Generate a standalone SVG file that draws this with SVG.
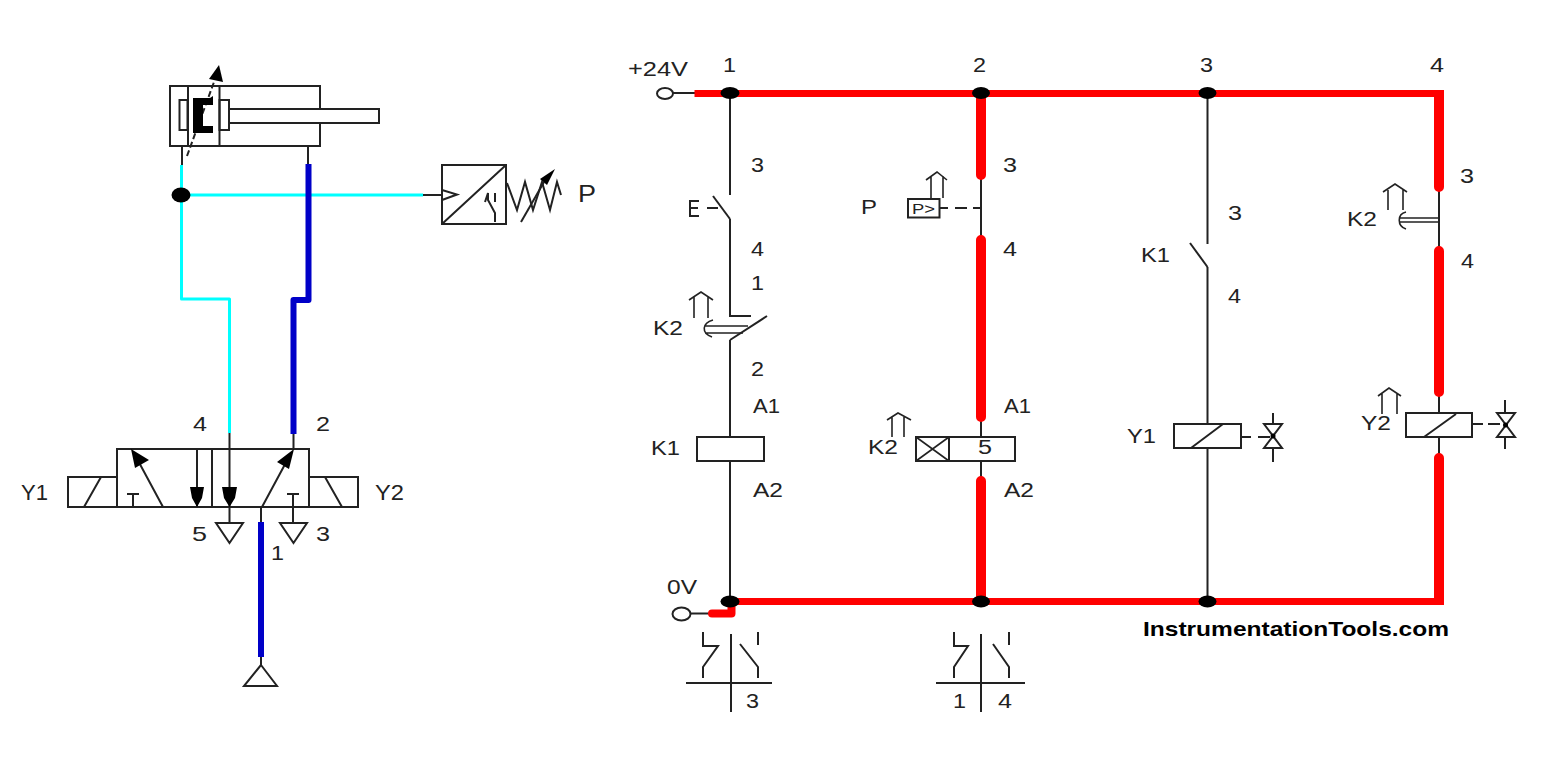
<svg xmlns="http://www.w3.org/2000/svg" width="1545" height="784" viewBox="0 0 1545 784">
<style>
text{font-family:"Liberation Sans",Arial,sans-serif;font-size:20px;fill:#222}
.k{fill:none;stroke:#222;stroke-width:2}
.t{fill:none;stroke:#222;stroke-width:1.600}
.w{fill:#fff;stroke:#222;stroke-width:2}
.f{fill:#000;stroke:none}
.r{fill:none;stroke:#f00;stroke-width:7;stroke-linecap:square;stroke-linejoin:round}
.rv{fill:none;stroke:#f00;stroke-width:10;stroke-linecap:round}
.c{fill:none;stroke:#0ff;stroke-width:3;stroke-linejoin:round}
.b{fill:none;stroke:#0000c8;stroke-width:6;stroke-linejoin:round}
</style>
<rect width="1545" height="784" fill="#fff"/>
<g id="connectors">
<path class="k" d="M182 146V166M308 146V166M423 195H442M229.500 433V449M293.500 433V449M261 507V523M261 656V666"/>
<path class="c" d="M181.500 165V299H229.500V433M181 195H423"/>
<path class="b" d="M308.500 164V300H293.500V434M261 522V657"/>
<path class="k" d="M673 93H697M730 93V195M730 219V316H751M730 340V437M730 461V601M690 613.500H712M981 178V237M981 418V437M981 461V478M1207.500 93V244M1207.500 267V424M1207.500 448V601M1439 190V247M1439 395V413M1439 437V455"/>
<path class="r" d="M698 93.500H1440.500M735 601.500H1440.500"/>
<path class="rv" d="M981 95V175M981 240V417M981 481V600M1439 95V187M1439 251V392M1439 458V600"/>
<path d="M712 613.500H731.500V604" fill="none" stroke="#f00" stroke-width="8" stroke-linecap="round" stroke-linejoin="round"/>
</g>
<g id="junctions">
<ellipse class="f" cx="181" cy="195" rx="9.500" ry="7.500"/>
<ellipse class="f" cx="730" cy="93" rx="9.500" ry="6"/>
<ellipse class="f" cx="981" cy="93" rx="9" ry="6"/>
<ellipse class="f" cx="1207.500" cy="93" rx="9" ry="6"/>
<ellipse class="f" cx="730" cy="601.500" rx="9.500" ry="6"/>
<ellipse class="f" cx="981" cy="601.500" rx="9" ry="6"/>
<ellipse class="f" cx="1207.500" cy="601.500" rx="9" ry="6"/>
</g>
<g id="cylinder">
<rect class="k" x="170" y="86" width="150" height="60"/>
<path class="k" d="M188 86V146M219.500 86V146"/>
<rect class="k" x="179.500" y="100" width="8" height="30"/>
<rect class="k" x="219.500" y="100" width="9.500" height="30"/>
<rect class="w" x="229" y="109" width="150" height="14"/>
<path d="M187 156L214 82" class="k" stroke-dasharray="6 3"/>
<path class="f" d="M193 98H210L213 96V105H203V126H213V133H193Z"/>
<path class="f" d="M219 65L223 82L209 79Z"/>
</g>
<g id="pressure-converter">
<rect class="k" x="442" y="165" width="64" height="59"/>
<path class="k" d="M442 190L457 194.500L442 200M442 224L506 165M485 202L488 193V200L495 213V222M495 193V202"/>
<path class="k" d="M507 183L517 210L525 182L533 210L542 182L550 210L557 182L561 195"/>
<path class="k" d="M521 222L544 182"/>
<path class="f" d="M555 169L547 185L540 179Z"/>
<text x="578" y="202" textLength="18" lengthAdjust="spacingAndGlyphs" style="font-size:24px">P</text>
</g>
<g id="valve">
<rect class="k" x="117" y="449" width="192" height="58"/>
<path class="k" d="M117 477H68V507H117M84 507L101 477"/>
<path class="k" d="M309 477H358V507H309M325 477L342 507"/>
<path class="k" d="M212 449V507"/>
<path class="k" d="M163 507L135 455M197 449V507M229.500 449V523M262 507L290 455M133 507V494M127 494H139M293 523V494M287 494H299"/>
<path class="f" d="M131 449L149 460L135 468ZM190 487H204L202 498L197 507L192 498ZM222 487H237L235 498L229.500 507L224 498ZM294 449L277 462L289 469Z"/>
<path class="k" d="M216 523H243L229.500 543ZM280 523H307L293.500 543Z"/>
<path class="k" d="M261 665L244 686H277Z"/>
<text x="193" y="431" textLength="14" lengthAdjust="spacingAndGlyphs" style="font-size:21px">4</text>
<text x="316" y="431" textLength="14" lengthAdjust="spacingAndGlyphs" style="font-size:21px">2</text>
<text x="21" y="500" textLength="27" lengthAdjust="spacingAndGlyphs" style="font-size:22px">Y1</text>
<text x="375" y="500" textLength="29" lengthAdjust="spacingAndGlyphs" style="font-size:22px">Y2</text>
<text x="192" y="541" textLength="15" lengthAdjust="spacingAndGlyphs" style="font-size:21px">5</text>
<text x="316" y="541" textLength="14" lengthAdjust="spacingAndGlyphs" style="font-size:21px">3</text>
<text x="271" y="560" textLength="13" lengthAdjust="spacingAndGlyphs" style="font-size:21px">1</text>
</g>
<g id="terminals">
<ellipse class="w" cx="665" cy="93.500" rx="8" ry="5.500"/>
<ellipse class="w" cx="681.500" cy="614" rx="9" ry="6.500"/>
<text x="628" y="76" textLength="60" lengthAdjust="spacingAndGlyphs">+24V</text>
<text x="723" y="72" textLength="13" lengthAdjust="spacingAndGlyphs">1</text>
<text x="973" y="72" textLength="13" lengthAdjust="spacingAndGlyphs">2</text>
<text x="1200" y="72" textLength="13" lengthAdjust="spacingAndGlyphs">3</text>
<text x="1430" y="72" textLength="14" lengthAdjust="spacingAndGlyphs">4</text>
<text x="667" y="594" textLength="30" lengthAdjust="spacingAndGlyphs">0V</text>
</g>
<g id="contact-E">
<path class="k" d="M713 196L730 219"/>
<path class="k" d="M699 201H690V216H699M690 208H698M707 208H718"/>
<text x="751" y="172" textLength="13" lengthAdjust="spacingAndGlyphs">3</text>
<text x="751" y="256" textLength="13" lengthAdjust="spacingAndGlyphs">4</text>
</g>
<g id="contact-K2-nc">
<path class="k" d="M767 316L730 340"/>
<path class="t" d="M705 326H748M705 333H743M713 320C702 323 701 333 712 337M694 318V296M708 318V296M689 300L701 292L713 300"/>
<text x="751" y="290" textLength="13" lengthAdjust="spacingAndGlyphs">1</text>
<text x="751" y="376" textLength="13" lengthAdjust="spacingAndGlyphs">2</text>
<text x="653" y="335" textLength="30" lengthAdjust="spacingAndGlyphs">K2</text>
</g>
<g id="coil-K1">
<rect class="k" x="697" y="437" width="67" height="24"/>
<text x="753" y="413" textLength="27" lengthAdjust="spacingAndGlyphs">A1</text>
<text x="753" y="497" textLength="30" lengthAdjust="spacingAndGlyphs">A2</text>
<text x="651" y="455" textLength="29" lengthAdjust="spacingAndGlyphs">K1</text>
</g>
<g id="contact-table-1">
<path class="k" d="M731 634V712M686 683H772M703 632V646H718L703 667V678M758 632V645M740 644L758 667V678"/>
<text x="746" y="708" textLength="13" lengthAdjust="spacingAndGlyphs">3</text>
</g>
<g id="switch-P">
<rect class="k" x="908" y="199" width="31.500" height="18.500"/>
<text x="912" y="214" textLength="23" lengthAdjust="spacingAndGlyphs" style="font-size:14px">P&gt;</text>
<path class="k" d="M940 208H948M955 208H967M973 208H981"/>
<path class="t" d="M931 198V176M943 198V176M926 180L937 172L947 180"/>
<text x="861" y="214" textLength="16" lengthAdjust="spacingAndGlyphs">P</text>
<text x="1003" y="172" textLength="14" lengthAdjust="spacingAndGlyphs">3</text>
<text x="1003" y="256" textLength="14" lengthAdjust="spacingAndGlyphs">4</text>
</g>
<g id="coil-K2">
<rect class="k" x="916" y="437" width="99" height="24"/>
<path class="k" d="M949 437V461"/>
<path class="t" d="M916 437L949 461M949 437L916 461M892 437V417M904 437V417M887 420L898 413L911 420"/>
<text x="868" y="454" textLength="30" lengthAdjust="spacingAndGlyphs">K2</text>
<text x="978" y="454" textLength="14" lengthAdjust="spacingAndGlyphs">5</text>
<text x="1004" y="413" textLength="27" lengthAdjust="spacingAndGlyphs">A1</text>
<text x="1004" y="497" textLength="30" lengthAdjust="spacingAndGlyphs">A2</text>
</g>
<g id="contact-K1">
<path class="k" d="M1190 243L1207.500 267"/>
<text x="1228" y="220" textLength="14" lengthAdjust="spacingAndGlyphs">3</text>
<text x="1228" y="303" textLength="13" lengthAdjust="spacingAndGlyphs">4</text>
<text x="1141" y="262" textLength="29" lengthAdjust="spacingAndGlyphs">K1</text>
</g>
<g id="coil-Y1">
<rect class="k" x="1174" y="424" width="67" height="24"/>
<path class="k" d="M1191 448L1223 424M1241 437H1251M1258 437H1270M1273 413V424M1273 448V462"/>
<path class="k" d="M1264 424H1282L1264 448H1282Z"/>
<circle class="f" cx="1273" cy="436" r="2.500"/>
<text x="1127" y="443" textLength="29" lengthAdjust="spacingAndGlyphs">Y1</text>
</g>
<g id="contact-K2-no">
<path class="t" d="M1400 218H1439M1400 222H1439M1406 212C1397 214 1397 226 1406 229M1388 210V190M1403 210V190M1383 192L1395 184L1407 192"/>
<text x="1460" y="183" textLength="14" lengthAdjust="spacingAndGlyphs">3</text>
<text x="1461" y="268" textLength="13" lengthAdjust="spacingAndGlyphs">4</text>
<text x="1347" y="226" textLength="30" lengthAdjust="spacingAndGlyphs">K2</text>
</g>
<g id="coil-Y2">
<rect class="k" x="1406" y="413" width="66" height="24"/>
<path class="k" d="M1424 437L1456 414M1472 424H1483M1488 424H1500M1505 400V413M1505 437V449"/>
<path class="k" d="M1497 413H1515L1497 437H1515Z"/>
<circle class="f" cx="1505.500" cy="425" r="2.500"/>
<path class="t" d="M1382 414V393M1397 414V393M1378 396L1389 388L1401 396"/>
<text x="1361" y="430" textLength="30" lengthAdjust="spacingAndGlyphs">Y2</text>
</g>
<g id="contact-table-2">
<path class="k" d="M981 634V712M936 683H1025M954 632V646H968L954 667V678M1009 632V645M993 644L1009 667V678"/>
<text x="953" y="708" textLength="13" lengthAdjust="spacingAndGlyphs">1</text>
<text x="998" y="708" textLength="14" lengthAdjust="spacingAndGlyphs">4</text>
</g>
<text id="watermark" x="1143" y="636" textLength="306" lengthAdjust="spacingAndGlyphs" style="font-size:21px;font-weight:bold;fill:#000">InstrumentationTools.com</text>
</svg>
